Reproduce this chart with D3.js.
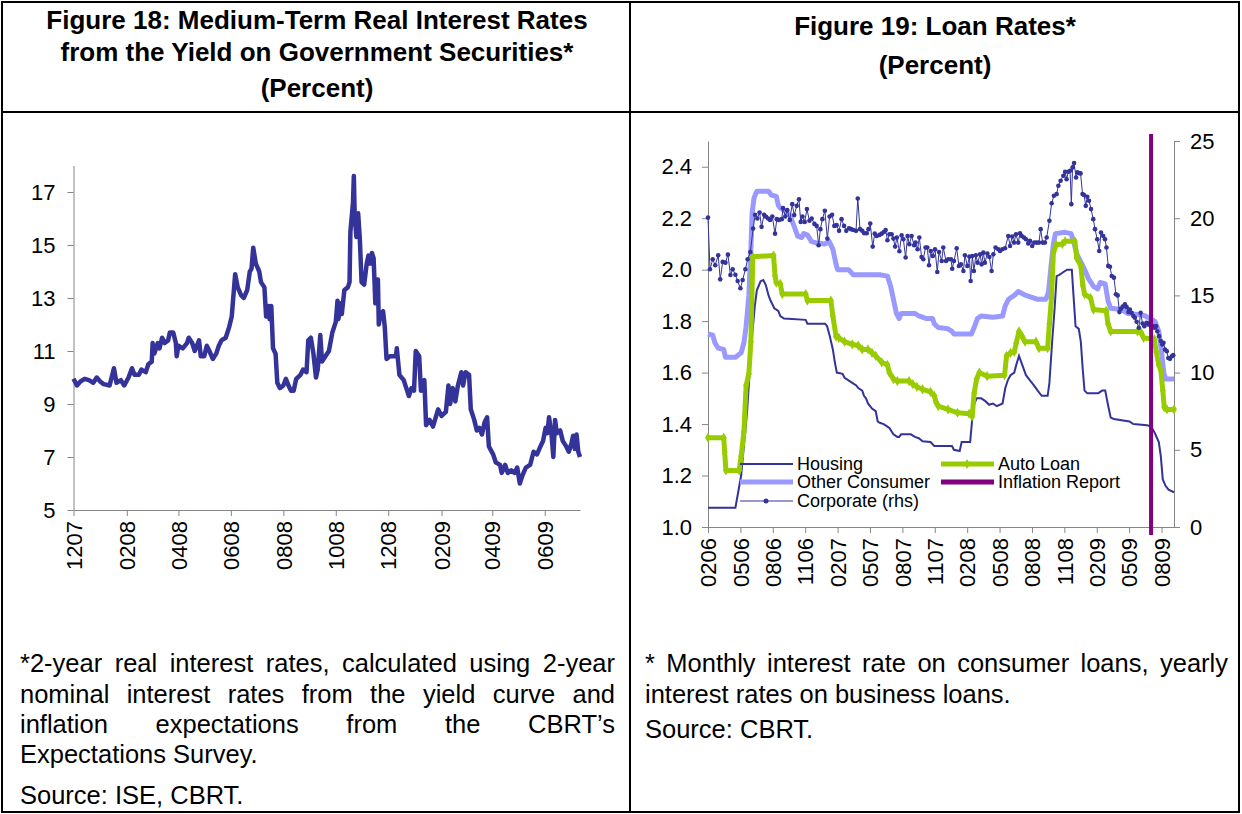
<!DOCTYPE html>
<html>
<head>
<meta charset="utf-8">
<script src="https://cdn.jsdelivr.net/npm/d3@7"></script>
<style>
  body { margin: 0; background: #fff; }
  svg { display: block; font-family: "Liberation Sans", Arial, sans-serif; }
</style>
</head>
<body>
<svg id="page" width="1242" height="814"></svg>
<script>
// ---- Figure 18: 2-year real interest rate (daily, percent) ----
var realRate = [
  ["2007-12-01",9.95],["2007-12-05",9.7],["2007-12-09",9.85],["2007-12-14",9.95],["2007-12-19",9.9],["2007-12-24",9.8],
  ["2007-12-28",10.0],["2008-01-01",9.85],["2008-01-05",9.75],["2008-01-12",9.7],["2008-01-17",10.35],["2008-01-20",9.8],
  ["2008-01-25",9.9],["2008-01-29",9.7],["2008-02-03",10.0],["2008-02-07",10.35],["2008-02-10",10.1],["2008-02-15",10.1],
  ["2008-02-18",10.3],["2008-02-23",10.2],["2008-02-26",10.5],["2008-03-01",10.6],["2008-03-02",11.3],["2008-03-04",10.9],
  ["2008-03-08",11.3],["2008-03-10",11.1],["2008-03-13",11.5],["2008-03-16",11.3],["2008-03-20",11.4],["2008-03-22",11.7],
  ["2008-03-26",11.7],["2008-03-29",11.3],["2008-03-30",10.8],["2008-04-01",11.2],["2008-04-06",11.1],["2008-04-11",11.3],
  ["2008-04-13",11.5],["2008-04-17",11.3],["2008-04-20",11.0],["2008-04-25",11.4],["2008-04-27",10.8],["2008-05-01",10.8],
  ["2008-05-04",11.2],["2008-05-07",11.0],["2008-05-11",10.7],["2008-05-15",10.9],["2008-05-18",11.2],["2008-05-21",11.4],
  ["2008-05-26",11.5],["2008-05-30",11.9],["2008-06-02",12.3],["2008-06-06",13.9],["2008-06-09",13.4],["2008-06-13",13.1],
  ["2008-06-16",13.0],["2008-06-20",13.3],["2008-06-23",14.0],["2008-06-25",14.1],["2008-06-27",14.9],["2008-06-30",14.3],
  ["2008-07-04",14.0],["2008-07-06",13.6],["2008-07-10",13.4],["2008-07-12",12.3],["2008-07-15",12.7],["2008-07-16",12.2],
  ["2008-07-18",12.7],["2008-07-20",11.1],["2008-07-23",10.9],["2008-07-25",9.8],["2008-07-28",9.6],["2008-08-01",9.7],
  ["2008-08-04",9.95],["2008-08-07",9.7],["2008-08-10",9.5],["2008-08-13",9.5],["2008-08-16",9.95],["2008-08-21",10.1],
  ["2008-08-24",10.3],["2008-08-28",10.2],["2008-08-30",11.4],["2008-09-02",11.5],["2008-09-05",10.9],["2008-09-08",10.0],
  ["2008-09-10",10.3],["2008-09-13",11.6],["2008-09-15",10.6],["2008-09-19",10.8],["2008-09-23",11.0],["2008-09-27",11.7],
  ["2008-10-01",12.1],["2008-10-03",12.9],["2008-10-04",12.2],["2008-10-07",12.8],["2008-10-08",12.4],["2008-10-11",13.3],
  ["2008-10-15",13.4],["2008-10-17",13.6],["2008-10-18",15.5],["2008-10-21",16.6],["2008-10-22",17.6],["2008-10-23",16.1],
  ["2008-10-25",15.3],["2008-10-27",16.2],["2008-10-29",15.2],["2008-10-31",13.6],["2008-11-03",13.5],["2008-11-06",14.3],
  ["2008-11-08",14.6],["2008-11-10",14.3],["2008-11-12",14.7],["2008-11-14",14.5],["2008-11-16",12.8],["2008-11-17",13.7],
  ["2008-11-19",13.7],["2008-11-20",12.0],["2008-11-22",12.4],["2008-11-25",12.5],["2008-11-27",11.9],["2008-11-29",10.7],
  ["2008-12-03",10.8],["2008-12-10",10.8],["2008-12-11",11.1],["2008-12-14",10.1],["2008-12-19",9.9],["2008-12-22",9.6],
  ["2008-12-25",9.3],["2008-12-28",9.6],["2008-12-31",9.5],["2009-01-02",11.0],["2009-01-06",10.8],["2009-01-08",9.5],
  ["2009-01-12",9.9],["2009-01-14",8.2],["2009-01-18",8.4],["2009-01-22",8.15],["2009-01-28",8.8],["2009-02-01",8.55],
  ["2009-02-06",8.7],["2009-02-09",9.7],["2009-02-11",9.0],["2009-02-14",9.6],["2009-02-17",9.1],["2009-02-20",9.7],
  ["2009-02-24",10.2],["2009-02-26",9.7],["2009-03-01",10.2],["2009-03-05",10.1],["2009-03-07",8.8],["2009-03-11",8.4],
  ["2009-03-14",8.0],["2009-03-17",8.1],["2009-03-20",7.85],["2009-03-23",8.3],["2009-03-26",8.5],["2009-03-28",7.4],
  ["2009-04-02",7.1],["2009-04-05",6.8],["2009-04-10",6.7],["2009-04-12",6.4],["2009-04-16",6.7],["2009-04-19",6.4],
  ["2009-04-23",6.5],["2009-04-27",6.4],["2009-04-30",6.6],["2009-05-03",6.0],["2009-05-06",6.3],["2009-05-10",6.6],
  ["2009-05-15",6.7],["2009-05-19",7.2],["2009-05-23",7.1],["2009-05-27",7.4],["2009-05-30",7.6],["2009-06-02",8.1],
  ["2009-06-04",7.9],["2009-06-06",8.5],["2009-06-09",7.8],["2009-06-11",7.0],["2009-06-13",8.4],["2009-06-15",7.9],
  ["2009-06-19",8.0],["2009-06-22",7.6],["2009-06-26",7.4],["2009-06-29",7.2],["2009-07-02",7.5],["2009-07-04",7.8],
  ["2009-07-06",7.3],["2009-07-08",7.85],["2009-07-10",7.2],["2009-07-12",7.0]
];
var realRateTicks = ["2007-12-01","2008-02-01","2008-04-01","2008-06-01","2008-08-01","2008-10-01",
                     "2008-12-01","2009-02-01","2009-04-01","2009-06-01"];
var realRateYTicks = [5, 7, 9, 11, 13, 15, 17];

// ---- Figure 19: loan rates, weekly categories (index = week number) ----
var weekLabels = ["0206","0506","0806","1106","0207","0507","0807","1107","0208","0508","0808","1108","0209","0509","0809"];
var housing = [
  [0,1.075],[11,1.075],[12.2,1.14],[13.3,1.2],[15.7,1.45],[17.5,1.72],[18.8,1.86],[19.6,1.92],[21.1,1.955],[22.2,1.96],
  [23.2,1.94],[24.3,1.9],[25.1,1.88],[26.6,1.85],[28.2,1.84],[29,1.82],[30.5,1.81],[39.2,1.805],[39.9,1.79],[47,1.79],
  [47.8,1.78],[48.9,1.74],[50.1,1.69],[50.9,1.64],[51.7,1.6],[54,1.595],[54.8,1.58],[56.4,1.57],[57.9,1.56],[59.5,1.55],
  [60.3,1.54],[61.9,1.53],[62.6,1.51],[63.4,1.5],[64.2,1.48],[65.8,1.46],[67.3,1.45],[68.1,1.41],[68.9,1.405],[70.5,1.4],
  [72,1.39],[72.8,1.385],[74.4,1.36],[76,1.35],[76.7,1.35],[77.5,1.36],[81.4,1.36],[83,1.35],[84.6,1.345],[86.1,1.333],
  [89.3,1.33],[90.8,1.315],[97.9,1.315],[98.7,1.3],[101,1.295],[101.8,1.33],[105.2,1.33],[106.5,1.47],[107.8,1.5],[109.6,1.5],
  [111.2,1.49],[112.8,1.475],[114.3,1.48],[115.9,1.47],[118.2,1.48],[119.3,1.54],[120.3,1.57],[121.4,1.59],[122.9,1.6],
  [123.7,1.63],[124.8,1.665],[126.1,1.63],[127.6,1.59],[129.2,1.57],[130.8,1.55],[132.3,1.53],[133.9,1.51],[136.3,1.51],
  [137,1.56],[138.1,1.72],[139.1,1.85],[139.9,1.975],[141,1.98],[142.5,1.99],[144.1,2.0],[146,2.0],[146.6,1.91],[147.5,1.78],
  [148.8,1.77],[149.6,1.72],[150.4,1.61],[151.1,1.53],[152.2,1.52],[156.6,1.52],[158.2,1.53],[159.4,1.53],[160.5,1.475],
  [161.6,1.425],[162.9,1.42],[169.1,1.41],[170.7,1.4],[176.2,1.395],[177.8,1.39],[179.3,1.365],[180.9,1.33],[181.7,1.275],
  [182.5,1.185],[183.6,1.16],[184.8,1.145],[187,1.135]
];
var otherConsumer = [
  [0,1.75],[1.9,1.745],[2.8,1.715],[4.1,1.695],[6.3,1.69],[7,1.66],[11,1.66],[13.3,1.677],[14.4,1.715],[15.3,1.78],
  [16.4,1.9],[17.2,2.08],[17.7,2.22],[18.5,2.28],[19.6,2.305],[24.3,2.305],[25.4,2.29],[27.4,2.285],[28.2,2.25],[29,2.24],
  [30.5,2.23],[32.9,2.21],[34.5,2.17],[36,2.13],[37.6,2.125],[38.4,2.14],[39.9,2.135],[41.5,2.11],[43.1,2.105],[47,2.1],
  [48.6,2.11],[50.1,2.08],[51.4,2.02],[52,2.0],[56.4,2.0],[58.3,1.98],[68.9,1.98],[72,1.975],[73.3,1.935],[74.4,1.885],
  [75.6,1.83],[76.7,1.81],[77.5,1.83],[83,1.83],[84.6,1.82],[87.7,1.81],[90.1,1.81],[90.8,1.79],[92.4,1.775],[96.3,1.77],
  [97.9,1.76],[98.7,1.75],[105.7,1.75],[106.8,1.775],[108.1,1.81],[109.6,1.82],[114.3,1.815],[118.2,1.82],[119.3,1.86],
  [120.6,1.885],[122.9,1.9],[124.5,1.915],[127.6,1.9],[132.3,1.885],[135.5,1.885],[136.6,1.91],[137.5,2.0],[138.6,2.1],
  [139.4,2.14],[143.3,2.145],[145.7,2.14],[146.7,2.11],[148,2.06],[149.1,2.04],[150.4,2.015],[151.6,1.99],[152.7,1.965],
  [154.7,1.935],[156.3,1.925],[157.4,1.95],[159.4,1.945],[160.5,1.88],[161.6,1.85],[166,1.845],[168.4,1.83],[173.8,1.825],
  [175.4,1.82],[177.4,1.81],[179.3,1.8],[180.9,1.76],[182,1.68],[182.9,1.6],[183.6,1.575],[187,1.575]
];
var autoLoan = [
  [0,1.347],[6.3,1.347],[6.7,1.29],[7.2,1.22],[12.5,1.22],[13.3,1.275],[14.4,1.37],[15.3,1.55],[16.4,1.595],[17.2,1.72],
  [18,2.05],[26.3,2.055],[26.9,1.975],[27.4,1.95],[29,1.945],[29.8,1.905],[39.2,1.905],[39.9,1.88],[49.3,1.88],[50.1,1.82],
  [51.4,1.74],[52.5,1.735],[54.8,1.72],[57.9,1.71],[60.3,1.705],[61.9,1.69],[64.2,1.69],[65.8,1.677],[67.3,1.665],
  [69.7,1.64],[72,1.63],[72.8,1.6],[74.4,1.575],[76,1.567],[80.7,1.567],[82.2,1.555],[83.8,1.545],[86.1,1.535],[89.3,1.525],
  [90.8,1.51],[91.6,1.483],[92.4,1.47],[96.3,1.457],[100.1,1.444],[104.8,1.44],[106,1.43],[106.8,1.52],[107.8,1.575],
  [108.9,1.6],[112,1.586],[119,1.59],[119.8,1.665],[121.4,1.677],[122.9,1.68],[123.7,1.715],[124.8,1.76],[126.1,1.74],
  [127.2,1.72],[131.6,1.72],[132.8,1.695],[136.3,1.695],[137,1.79],[137.8,1.885],[138.6,2.065],[139.7,2.097],[142.2,2.1],
  [143.3,2.11],[147.2,2.11],[148,2.045],[149.6,2.015],[150.4,1.94],[151.1,1.905],[153.5,1.89],[154.7,1.845],[159.8,1.84],
  [160.5,1.79],[161.6,1.76],[172.3,1.76],[173.8,1.755],[174.8,1.735],[179.1,1.73],[179.9,1.68],[180.9,1.63],[181.7,1.61],
  [182.5,1.53],[183.1,1.465],[184.2,1.457],[187,1.457]
];
var corporate = [
  [0,20.04],[0.8,16.69],[1.9,17.34],[2.9,16.95],[4.1,17.6],[4.9,16.04],[5.9,17.17],[7,17.12],[8,17.64],[9,16.32],
  [9.9,16.69],[11,16.34],[11.9,15.93],[13,15.46],[13.9,16],[15,16.69],[15.9,17.34],[17,17.81],[18.1,19.33],[18.9,20.22],
  [19.8,19.98],[20.7,20.37],[21.5,19.44],[22.5,20.22],[23.3,20.09],[24.1,19.98],[24.9,19.89],[25.8,20.11],[26.9,19],
  [27.6,19.94],[28.5,19.89],[29.6,19.94],[30.1,20.65],[31,20.11],[31.8,20.52],[32.8,19.89],[33.8,20.91],[34.6,20.2],
  [35.6,20.8],[36.5,21.23],[37.2,19.76],[37.9,20.11],[38.8,19.76],[39.7,20.59],[40.7,19.83],[41.6,19.98],[42.7,19.63],
  [43.6,19.5],[44.4,18.25],[45.1,19.29],[45.9,19.94],[46.9,20.48],[47.9,18.68],[48.8,20.11],[49.8,20.22],[50.7,19.5],
  [51.6,19.55],[52.6,19.18],[53.6,19.94],[54.6,19.5],[55.5,19.18],[56.6,19.35],[57.4,19.29],[58.3,19.24],[59.4,19.18],
  [60.1,21.28],[61,19.29],[61.9,19.18],[62.7,19.03],[63.7,19.03],[64.4,19.29],[65.1,19.65],[66.1,18.16],[66.9,19],
  [67.7,18.85],[68.8,18.92],[69.7,19],[70.6,19.11],[71.3,19.24],[72,18.57],[72.8,18.96],[73.7,18.96],[74.4,18.68],
  [75.1,18.16],[75.8,18.75],[76.8,17.86],[77.7,18.9],[78.4,18.64],[79.3,17.45],[80.1,18.85],[80.8,18.31],[81.7,18.85],
  [82.7,18.25],[83.3,18.42],[84.1,17.99],[84.8,18.75],[85.7,17.49],[86.4,17.34],[87.3,18.1],[88,18.1],[88.7,16.95],
  [89.4,17.88],[90.2,17.55],[91.1,17.99],[92,16.52],[92.7,17.81],[93.8,17.23],[94.4,18.1],[95.5,17.23],[96.4,17.34],
  [97.5,17.34],[98,16.73],[98.7,17.23],[99.8,18.05],[100.7,16.9],[101.5,17.01],[102.5,16.58],[103.1,17.6],[104.1,16.91],
  [104.9,17.51],[105.4,15.93],[106.1,17.55],[106.7,16.58],[107.5,17.6],[108.2,17.12],[109.2,17.66],[109.8,17.01],
  [110.5,17.77],[111.1,17.12],[112.1,17.71],[112.9,17.49],[113.8,16.58],[114.5,17.66],[115.4,18.1],[116.5,17.99],
  [117.2,17.88],[118.1,17.99],[119.2,18.05],[120.5,18.85],[121.2,18.2],[122.1,18.81],[122.8,18.42],[123.6,18.96],
  [124.5,18.42],[125.2,19.03],[125.9,18.85],[126.8,18.75],[127.6,18.64],[128.5,18.36],[129.2,18.53],[130.1,18.2],
  [130.9,18.42],[131.9,18.42],[132.8,18.42],[133.5,19.29],[134.3,18.42],[135.2,18.42],[135.9,18.75],[137,19.83],
  [137.9,20.97],[138.8,21.45],[139.9,21.56],[140.6,22.1],[141.5,22.43],[142.6,22.75],[143.3,23.01],[143.9,22.53],
  [144.6,23.01],[145.3,23.07],[145.8,20.91],[146.3,23.29],[146.9,23.57],[147.7,22.64],[148.2,22.97],[148.9,22.92],
  [149.5,22.9],[150.3,21.56],[150.9,21.5],[151.6,20.8],[152.2,21.39],[152.9,21.13],[153.7,20.59],[154.6,19.94],
  [155.3,19.29],[156.2,18.64],[157,17.88],[157.7,19.07],[158.6,18.85],[159.3,18.64],[159.9,18.1],[160.6,16.91],
  [161.3,16.86],[162,16.26],[162.9,16.15],[163.7,15.07],[164.4,15],[165.1,13.92],[165.7,14.14],[166.4,14.27],[167.3,14.42],
  [168,14.24],[168.7,13.92],[169.3,14.09],[170,13.88],[170.7,13.66],[171.3,13.55],[172,13.29],[172.9,12.9],[173.6,13.88],
  [174.4,13.18],[175.1,13.01],[176,13.23],[176.7,13.12],[177.3,13.23],[177.8,12.97],[178.4,13.01],[179.1,12.9],
  [179.8,13.01],[180.3,12.68],[181,12.36],[181.7,12.04],[182.3,11.82],[182.8,11.93],[183.4,11.5],[184.1,11.39],
  [184.7,10.95],[185.4,10.89],[186.1,11.06],[186.7,11.13]
];
var inflationReportWeek = 177.8;
var loanLeftTicks = [1.0, 1.2, 1.4, 1.6, 1.8, 2.0, 2.2, 2.4];
var loanRightTicks = [0, 5, 10, 15, 20, 25];

var leftNote = [
  "*2-year real interest rates, calculated using 2-year",
  "nominal interest rates from the yield curve and",
  "inflation expectations from the CBRT\u2019s",
  "Expectations Survey."
];
var rightNote = [
  "* Monthly interest rate on consumer loans, yearly",
  "interest rates on business loans."
];

var navy = "#333399", lilac = "#9999FF", lime = "#99CC00", purple = "#800080", axisGrey = "#858585";

var svg = d3.select("#page");
var parse = d3.timeParse("%Y-%m-%d");

// ---- table frame ----
var frame = svg.append("g").attr("stroke", "#000").attr("stroke-width", 2).attr("fill", "none");
frame.append("rect").attr("x", 2).attr("y", 2).attr("width", 1237).attr("height", 810);
frame.append("line").attr("x1", 2).attr("x2", 1239).attr("y1", 112).attr("y2", 112);
frame.append("line").attr("x1", 630).attr("x2", 630).attr("y1", 2).attr("y2", 812);

// ---- titles ----
function title(cx, lines) {
  lines.forEach(function(l) {
    svg.append("text").attr("x", cx).attr("y", l[1])
      .attr("text-anchor", "middle").attr("font-weight", "bold").attr("font-size", 26)
      .text(l[0]);
  });
}
title(317, [["Figure 18: Medium-Term Real Interest Rates", 29], ["from the Yield on Government Securities*", 61], ["(Percent)", 97]]);
title(935, [["Figure 19: Loan Rates*", 35], ["(Percent)", 74]]);

// ---- notes (justified lines) ----
function noteLine(text, x0, x1, y, justify) {
  var fs = 25.5;
  if (!justify) {
    svg.append("text").attr("x", x0).attr("y", y).attr("font-size", fs).text(text);
    return;
  }
  var words = text.split(" ");
  var tmp = svg.append("text").attr("font-size", fs);
  var widths = words.map(function(w) { tmp.text(w); return tmp.node().getComputedTextLength(); });
  tmp.remove();
  var gap = (x1 - x0 - d3.sum(widths)) / (words.length - 1);
  var x = x0;
  words.forEach(function(w, i) {
    svg.append("text").attr("x", x).attr("y", y).attr("font-size", fs).text(w);
    x += widths[i] + gap;
  });
}
noteLine(leftNote[0], 20, 615, 672, true);
noteLine(leftNote[1], 20, 615, 703, true);
noteLine(leftNote[2], 20, 615, 733, true);
noteLine(leftNote[3], 20, 615, 763, false);
noteLine("Source: ISE, CBRT.", 20, 615, 804, false);
noteLine(rightNote[0], 645, 1228, 672, true);
noteLine(rightNote[1], 645, 1228, 703, false);
noteLine("Source: CBRT.", 645, 1228, 738, false);

function styleAxis(g) {
  g.attr("font-size", 22).attr("font-family", "Liberation Sans, Arial, sans-serif");
  g.selectAll(".domain").attr("stroke", axisGrey);
  g.selectAll(".tick line").attr("stroke", axisGrey);
  g.selectAll(".tick text").attr("fill", "#000");
}
function rotateLabels(g) {
  g.selectAll(".tick text")
    .attr("transform", "rotate(-90)")
    .attr("x", -11).attr("y", 0).attr("dy", "0.35em")
    .style("text-anchor", "end");
}

// ---- Figure 18 chart ----
var x1 = d3.scaleTime().domain([parse("2007-12-01"), parse("2009-07-12")]).range([73.5, 580]);
var y1 = d3.scaleLinear().domain([5, 18]).range([510, 165.5]);

svg.append("g").attr("transform", "translate(73.5,0)")
  .call(d3.axisLeft(y1).tickValues(realRateYTicks).tickSize(6).tickSizeOuter(0).tickPadding(12))
  .call(styleAxis);
svg.append("g").attr("transform", "translate(0,510)")
  .call(d3.axisBottom(x1).tickValues(realRateTicks.map(parse)).tickFormat(d3.timeFormat("%m%y"))
    .tickSize(6).tickSizeOuter(0))
  .call(styleAxis).call(rotateLabels);

svg.append("path").datum(realRate)
  .attr("fill", "none").attr("stroke", navy).attr("stroke-width", 4.5).attr("stroke-linejoin", "round")
  .attr("d", d3.line().x(function(d) { return x1(parse(d[0])); }).y(function(d) { return y1(d[1]); }));

// ---- Figure 19 chart ----
var x2 = d3.scaleLinear().domain([0, 187]).range([708, 1174]);
var yL = d3.scaleLinear().domain([1.0, 2.5]).range([527, 141]);
var yR = d3.scaleLinear().domain([0, 25]).range([527, 141]);

svg.append("g").attr("transform", "translate(708,0)")
  .call(d3.axisLeft(yL).tickValues(loanLeftTicks).tickFormat(d3.format(".1f")).tickSize(6).tickSizeOuter(0).tickPadding(10))
  .call(styleAxis);
svg.append("g").attr("transform", "translate(1174,0)")
  .call(d3.axisRight(yR).tickValues(loanRightTicks).tickSize(6).tickSizeOuter(0).tickPadding(10))
  .call(styleAxis);
svg.append("g").attr("transform", "translate(0,527)")
  .call(d3.axisBottom(x2).tickValues(weekLabels.map(function(d, i) { return i * 13; }))
    .tickFormat(function(d) { return weekLabels[d / 13]; }).tickSize(6).tickSizeOuter(0))
  .call(styleAxis).call(rotateLabels);

var lineL = d3.line().x(function(d) { return x2(d[0]); }).y(function(d) { return yL(d[1]); });
var lineR = d3.line().x(function(d) { return x2(d[0]); }).y(function(d) { return yR(d[1]); });

svg.append("path").datum(housing).attr("fill", "none").attr("stroke", navy).attr("stroke-width", 2).attr("d", lineL);
svg.append("path").datum(otherConsumer).attr("fill", "none").attr("stroke", lilac).attr("stroke-width", 5)
  .attr("stroke-linejoin", "round").attr("d", lineL);
svg.append("path").datum(autoLoan).attr("fill", "none").attr("stroke", lime).attr("stroke-width", 5)
  .attr("stroke-linejoin", "round").attr("d", lineL);
svg.append("g").selectAll("path").data(autoLoan).enter().append("path")
  .attr("d", d3.symbol(d3.symbolDiamond, 30))
  .attr("transform", function(d) { return "translate(" + x2(d[0]) + "," + yL(d[1]) + ")"; })
  .attr("fill", lime);
svg.append("path").datum(corporate).attr("fill", "none").attr("stroke", navy).attr("stroke-width", 1).attr("d", lineR);
svg.append("g").selectAll("circle").data(corporate).enter().append("circle")
  .attr("cx", function(d) { return x2(d[0]); }).attr("cy", function(d) { return yR(d[1]); })
  .attr("r", 2.3).attr("fill", navy);
svg.append("line").attr("x1", x2(inflationReportWeek)).attr("x2", x2(inflationReportWeek))
  .attr("y1", 134).attr("y2", 535).attr("stroke", purple).attr("stroke-width", 4);

// ---- legend ----
var legend = [
  { name: "Housing", color: navy, w: 2, x: 740, y: 464 },
  { name: "Other Consumer", color: lilac, w: 5, x: 740, y: 482 },
  { name: "Corporate (rhs)", color: navy, w: 1, x: 740, y: 501, dot: true },
  { name: "Auto Loan", color: lime, w: 5, x: 941, y: 464, diamond: true },
  { name: "Inflation Report", color: purple, w: 5, x: 941, y: 482 }
];
var lg = svg.append("g").selectAll("g").data(legend).enter().append("g");
lg.append("line").attr("x1", function(d) { return d.x; }).attr("x2", function(d) { return d.x + 53; })
  .attr("y1", function(d) { return d.y; }).attr("y2", function(d) { return d.y; })
  .attr("stroke", function(d) { return d.color; }).attr("stroke-width", function(d) { return d.w; });
lg.filter(function(d) { return d.dot; }).append("circle")
  .attr("cx", function(d) { return d.x + 26; }).attr("cy", function(d) { return d.y; }).attr("r", 2.5).attr("fill", navy);
lg.filter(function(d) { return d.diamond; }).append("path")
  .attr("d", d3.symbol(d3.symbolDiamond, 30))
  .attr("transform", function(d) { return "translate(" + (d.x + 26) + "," + d.y + ")"; }).attr("fill", lime);
lg.append("text").attr("x", function(d) { return d.x + 57; }).attr("y", function(d) { return d.y + 6; })
  .attr("font-size", 18).text(function(d) { return d.name; });
</script>
</body>
</html>
